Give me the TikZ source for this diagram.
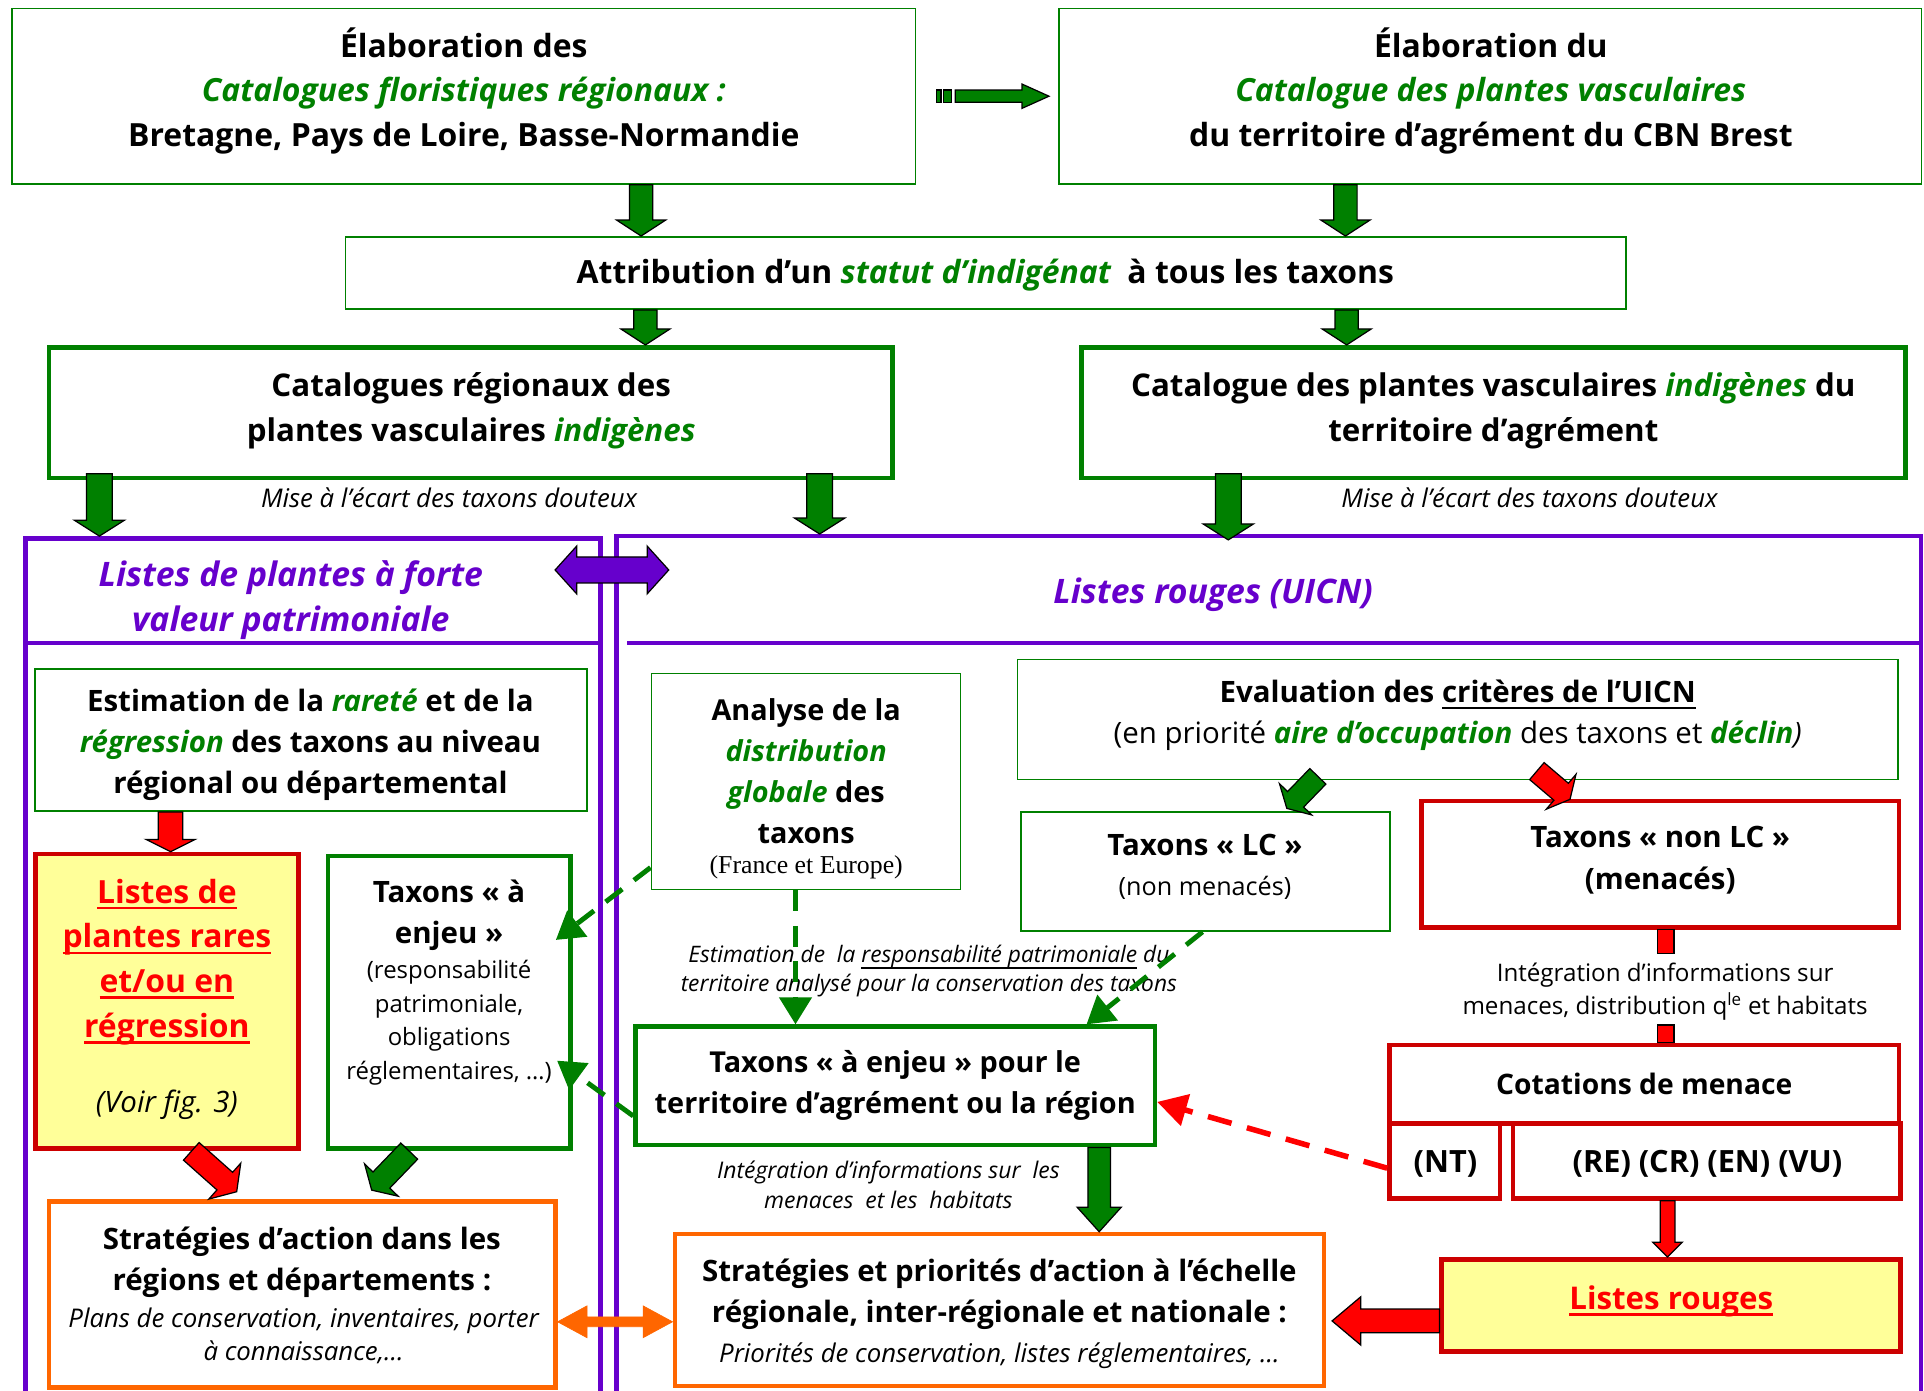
\documentclass[tikz,border=0pt]{standalone}
\usepackage{fontspec}
\setmainfont{Open Sans}
\newfontfamily\timesf{Liberation Serif}
\usetikzlibrary{calc,arrows.meta}
\definecolor{gG}{HTML}{008000}
\definecolor{pP}{HTML}{6600CC}
\definecolor{rB}{HTML}{CC0000}
\definecolor{rF}{HTML}{FF0000}
\definecolor{oO}{HTML}{FF6600}
\definecolor{yF}{HTML}{FFFF99}
\newcommand\myul[2][2pt]{\setbox0=\hbox{#2}\leavevmode\rlap{\rule[-5pt]{\wd0}{#1}}\box0\relax}
\newcommand\bx[6]{\node[#2, minimum width={#5-#3}, minimum height={#6-#4}] (#1) at ({(#3+#5)/2},{(#4+#6)/2}) {};}
% block arrow: style, A, B, shaft half width, head half width, head length
\newcommand\barrow[6]{%
  \coordinate (bH) at ($(#3)!#6pt!(#2)$);
  \draw[#1] ($(#2)!#4pt!90:(#3)$) -- ($(bH)!#4pt!90:(#3)$) -- ($(bH)!#5pt!90:(#3)$) -- (#3)
    -- ($(bH)!#5pt!-90:(#3)$) -- ($(bH)!#4pt!-90:(#3)$) -- ($(#2)!#4pt!-90:(#3)$) -- cycle;}
\newcommand\dbarrow[6]{%
  \coordinate (dA) at ($(#2)!#6pt!(#3)$);
  \coordinate (dB) at ($(#3)!#6pt!(#2)$);
  \draw[#1] (#2) -- ($(dA)!#5pt!90:(#3)$) -- ($(dA)!#4pt!90:(#3)$) -- ($(dB)!#4pt!-90:(#2)$)
    -- ($(dB)!#5pt!-90:(#2)$) -- (#3) -- ($(dB)!#5pt!90:(#2)$) -- ($(dB)!#4pt!90:(#2)$)
    -- ($(dA)!#4pt!-90:(#3)$) -- ($(dA)!#5pt!-90:(#3)$) -- cycle;}
\tikzset{
  boxthin/.style={draw=gG, line width=1.3pt, inner sep=0pt},
  boxthickg/.style={draw=gG, line width=3.8pt, inner sep=0pt},
  boxthickr/.style={draw=rB, line width=3.8pt, inner sep=0pt},
  boxorange/.style={draw=oO, line width=3.8pt, inner sep=0pt},
  panel/.style={draw=pP, line width=3.6pt, inner sep=0pt},
  txt/.style={inner sep=0pt, align=center, text=black, yshift=-2.5pt},
  big/.style={font=\bfseries\fontsize{26}{36.5}\selectfont},
  cat/.style={font=\bfseries\fontsize{25.5}{37}\selectfont},
  mid/.style={font=\bfseries\fontsize{24}{33.5}\selectfont},
  note/.style={font=\itshape\fontsize{21}{27}\selectfont},
  ptitle/.style={font=\bfseries\itshape\fontsize{27.5}{37}\selectfont, text=pP},
  arrg/.style={fill=gG, draw=black, line width=1pt, line join=miter},
  arrr/.style={fill=rF, draw=black, line width=1pt, line join=miter},
  arrp/.style={fill=pP, draw=black, line width=1pt, line join=miter},
  arro/.style={fill=oO, draw=oO, line width=0.5pt},
  dashg/.style={draw=gG, line width=4pt, dash pattern=on 17pt off 12pt, -{Triangle[length=22pt,width=26pt]}},
  dashr/.style={draw=rF, line width=4.5pt, dash pattern=on 20pt off 13pt, -{Triangle[length=24pt,width=26pt]}},
}
\begin{document}
\begin{tikzpicture}[x=1pt,y=-1pt]
\useasboundingbox (0,0) rectangle (1568,1133);
\fill[white] (0,0) rectangle (1568,1133);

% panels
\bx{plp}{panel}{20.7}{438.7}{489.5}{1200}
\bx{prp}{panel}{502.4}{437}{1565.5}{1200}
\draw[pP, line width=3.6pt] (plp.west |- 0,524) -- (plp.east |- 0,524);
\draw[pP, line width=3.6pt] (511,524) -- (prp.east |- 0,524);
\node[txt, ptitle] (plp-t) at (237,486.5) {Listes de plantes à forte\\valeur patrimoniale};
\node[txt, ptitle] (prp-t) at (988.7,482) {Listes rouges (UICN)};

% top boxes
\bx{tl}{boxthin}{10}{7}{746}{150}
\node[txt, big] (tl-t) at (378,71.5) {Élaboration des\\\textcolor{gG}{\itshape Catalogues floristiques régionaux :}\\Bretagne, Pays de Loire, Basse-Normandie};
\bx{tr}{boxthin}{863}{7}{1566}{150}
\node[txt, big] (tr-t) at (1215,71.5) {Élaboration du\\\textcolor{gG}{\itshape Catalogue des plantes vasculaires}\\du territoire d’agrément du CBN Brest};
\bx{attr}{boxthin}{281.5}{193}{1325}{252}
\node[txt, big] (attr-t) at (803,222) {Attribution d’un \textcolor{gG}{\itshape statut d’indigénat}\ \ à tous les taxons};
\bx{catl}{boxthickg}{40}{283}{727.5}{389.5}
\node[txt, cat] (catl-t) at (384,332.5) {Catalogues régionaux des\\plantes vasculaires \textcolor{gG}{\itshape indigènes}};
\bx{catr}{boxthickg}{881.5}{283}{1553}{389.5}
\node[txt, cat] (catr-t) at (1217,332.5) {Catalogue des plantes vasculaires \textcolor{gG}{\itshape indigènes} du\\territoire d’agrément};
\node[txt, note] (mise1) at (366,403) {Mise à l’écart des taxons douteux};
\node[txt, note] (mise2) at (1246.5,403) {Mise à l’écart des taxons douteux};

% left panel content
\bx{est}{boxthin}{28.4}{545}{478.4}{661}
\node[txt, mid] (est-t) at (253,604.5) {Estimation de la \textcolor{gG}{\itshape rareté} et de la\\\textcolor{gG}{\itshape régression} des taxons au niveau\\régional ou départemental};
\bx{lpr}{boxthickr, fill=yF}{29.1}{696}{243}{936}
\node[txt, big, text=rF] (lpr-t) at (136,781.5) {\myul{Listes de}\\\myul{plantes rares}\\\myul{et/ou en}\\\myul{régression}};
\node[txt, font=\itshape\fontsize{24}{28}\selectfont] (lpr-v) at (136,898) {(Voir fig. 3)};
\bx{ten}{boxthickg}{267.4}{697.6}{465}{936}
\node[txt, mid] (ten-t1) at (366,743.5) {Taxons «~à\\enjeu~»};
\node[txt, font=\fontsize{19.5}{27.5}\selectfont] (ten-t2) at (366,831) {(responsabilité\\patrimoniale,\\obligations\\réglementaires, …)};
\bx{stl}{boxorange}{40}{979}{452.5}{1131}
\node[txt, mid] (stl-t1) at (246,1026) {Stratégies d’action dans les\\régions et départements :};
\node[txt, note] (stl-t2) at (247.5,1086.5) {Plans de conservation, inventaires, porter\\à connaissance,…};

% right panel content
\bx{ana}{boxthin}{530.8}{548.8}{782.9}{724.8}
\node[txt, font=\bfseries\fontsize{23.5}{33.3}\selectfont] (ana-t1) at (657,626) {Analyse de la\\\textcolor{gG}{\itshape distribution}\\\textcolor{gG}{\itshape globale} des\\taxons};
\node[txt, font=\timesf\fontsize{21}{26}\selectfont] (ana-t2) at (657,704) {(France et Europe)};
\bx{eval}{boxthin}{829.1}{537.4}{1546.6}{635.1}
\node[txt, mid] (eval-t) at (1188,580.5) {Evaluation des \myul[1.6pt]{critères de l’UICN}\\{\mdseries (en priorité \textcolor{gG}{\bfseries\itshape aire d’occupation} des taxons et \textcolor{gG}{\bfseries\itshape déclin}\textit{)}}};
\bx{lc}{boxthin}{832}{661.5}{1132.9}{758.8}
\node[txt, font=\fontsize{20.5}{32}\selectfont] (lc-t) at (982,704) {{\bfseries\fontsize{24}{32}\selectfont Taxons «~LC~»}\\(non menacés)};
\bx{nlc}{boxthickr}{1158.4}{652.8}{1547.6}{755.8}
\node[txt, mid] (nlc-t) at (1353,698.5) {Taxons «~non LC~»\\(menacés)};
\node[txt, font=\fontsize{19.7}{27}\selectfont] (integ) at (1357,805.5) {Intégration d’informations sur\\menaces, distribution q\textsuperscript{le} et habitats};
\bx{cot}{boxthickr}{1132.4}{851.7}{1547.6}{915.5}
\node[txt, font=\bfseries\fontsize{23}{30}\selectfont] (cot-t) at (1340,881) {Cotations de menace};
\bx{nt}{boxthickr}{1132.4}{915.5}{1222.5}{976.6}
\node[txt, font=\bfseries\fontsize{25}{30}\selectfont] (nt-t) at (1178,946) {(NT)};
\bx{re}{boxthickr}{1233}{915.5}{1549}{976.6}
\node[txt, font=\bfseries\fontsize{25}{30}\selectfont] (re-t) at (1391.5,946) {(RE) (CR) (EN) (VU)};
\bx{lr}{boxthickr, fill=yF}{1175}{1026.3}{1549}{1101.6}
\node[txt, font=\bfseries\fontsize{25.5}{30}\selectfont, text=rF] (lr-t) at (1362,1058) {\myul{Listes rouges}};
\bx{tep}{boxthickg}{518}{836.7}{941.2}{933.2}
\node[txt, font=\bfseries\fontsize{23.5}{34}\selectfont] (tep-t) at (729.6,882) {Taxons «~à enjeu~» pour le\\territoire d’agrément ou la région};
\node[txt, font=\itshape\fontsize{18.5}{24}\selectfont] (resp) at (757,789) {Estimation de\ \ la \myul[1pt]{responsabilité patrimoniale} du\\territoire analysé pour la conservation des taxons};
\node[txt, font=\itshape\fontsize{18.7}{24}\selectfont] (integ2) at (724,963) {Intégration d’informations sur\ \ les\\menaces\ \ et les\ \ habitats};
\bx{str}{boxorange}{550}{1005.7}{1079}{1129.6}
\node[txt, mid] (str-t1) at (814.5,1052.5) {Stratégies et priorités d’action à l’échelle\\régionale, inter-régionale et nationale :};
\node[txt, note] (str-t2) at (814.5,1102) {Priorités de conservation, listes réglementaires, …};

% block arrows
\draw[arrg] (763.4,73.4) rectangle (766.9,83.4);
\draw[arrg] (768.8,73.4) rectangle (775.6,83.4);
\coordinate (st-a) at (778.4,78.4);
\coordinate (st-b) at (854.9,78.4);
\barrow{arrg}{st-a}{st-b}{5}{9.9}{22}
\coordinate (a1s) at (tl.south -| 522.5,0);
\coordinate (a1e) at (attr.north -| 522.5,0);
\barrow{arrg}{a1s}{a1e}{9.5}{20}{13}
\coordinate (a2s) at (tr.south -| 1096.5,0);
\coordinate (a2e) at (attr.north -| 1096.5,0);
\barrow{arrg}{a2s}{a2e}{9.5}{20}{13}
\coordinate (a3s) at (attr.south -| 526,0);
\coordinate (a3e) at (catl.north -| 526,0);
\barrow{arrg}{a3s}{a3e}{9.5}{20}{13}
\coordinate (a4s) at (attr.south -| 1097.5,0);
\coordinate (a4e) at (catr.north -| 1097.5,0);
\barrow{arrg}{a4s}{a4e}{9.5}{20}{13}
\coordinate (a5s) at (81,386);
\coordinate (a5e) at (plp.north -| 81,0);
\barrow{arrg}{a5s}{a5e}{10.5}{20.5}{13}
\coordinate (a6s) at (668,386);
\coordinate (a6e) at (prp.north -| 668,0);
\barrow{arrg}{a6s}{a6e}{10.5}{20.5}{13}
\coordinate (a7s) at (1001,386);
\coordinate (a7e) at (1001,440);
\barrow{arrg}{a7s}{a7e}{10.5}{20.5}{13}
\coordinate (a8s) at (est.south -| 139,0);
\coordinate (a8e) at (lpr.north -| 139,0);
\barrow{arrr}{a8s}{a8e}{10}{20}{10}
\coordinate (a9s) at (155.9,938.3);
\coordinate (a9e) at (192.9,971.2);
\barrow{arrr}{a9s}{a9e}{9.6}{19.6}{13}
\coordinate (a10s) at (333.5,938.1);
\coordinate (a10e) at (302.9,969.9);
\barrow{arrg}{a10s}{a10e}{9.5}{19}{11.4}
\coordinate (a11s) at (1074,632.7);
\coordinate (a11e) at (1048.7,658.8);
\barrow{arrg}{a11s}{a11e}{9.1}{18.3}{10.3}
\coordinate (a12s) at (1252.5,628.4);
\coordinate (a12e) at (1279.5,651.4);
\barrow{arrr}{a12s}{a12e}{9.1}{18.7}{9.5}
\coordinate (a13s) at (tep.south -| 895.8,0);
\coordinate (a13e) at (str.north -| 895.8,0);
\barrow{arrg}{a13s}{a13e}{9.2}{18}{20}
\coordinate (a14s) at (re.south -| 1359,0);
\coordinate (a14e) at (lr.north -| 1359,0);
\barrow{arrr}{a14s}{a14e}{6}{12}{12}
\coordinate (a15s) at (lr.west |- 0,1076.5);
\coordinate (a15e) at (1085.6,1076.5);
\barrow{arrr}{a15s}{a15e}{9.7}{19.7}{23.4}
\coordinate (pa) at (452.4,464.5);
\coordinate (pb) at (545,464.5);
\dbarrow{arrp}{pa}{pb}{10.6}{19.5}{17.6}
\coordinate (oa) at (stl.east |- 0,1077.2);
\coordinate (ob) at (str.west |- 0,1077.2);
\dbarrow{arro}{oa}{ob}{4}{13}{24}
\coordinate (c1a) at (nlc.south -| 1350.7,0);
\coordinate (c1b) at (1364.3,777);
\draw[arrr] (c1a) rectangle (c1b);
\coordinate (c2a) at (1350.7,835.4);
\coordinate (c2b) at (cot.north -| 1364.3,0);
\draw[arrr] (c2a) rectangle (c2b);

% dashed connectors
\draw[dashg] (ana.south -| 648.3,0) -- (tep.north -| 648.3,0);
\draw[dashg] (lc.south -| 980,0) -- (tep.north -| 885.5,0);
\coordinate (ten-r1) at (453,766);
\coordinate (ten-r2) at (454,864.4);
\draw[dashg] (ana.west |- 0,707) -- (ten-r1);
\draw[dashg] (tep.west |- 0,909.5) -- (ten-r2);
\draw[dashr] (nt.west |- 0,952) -- (tep.east |- 0,898);
\end{tikzpicture}
\end{document}
